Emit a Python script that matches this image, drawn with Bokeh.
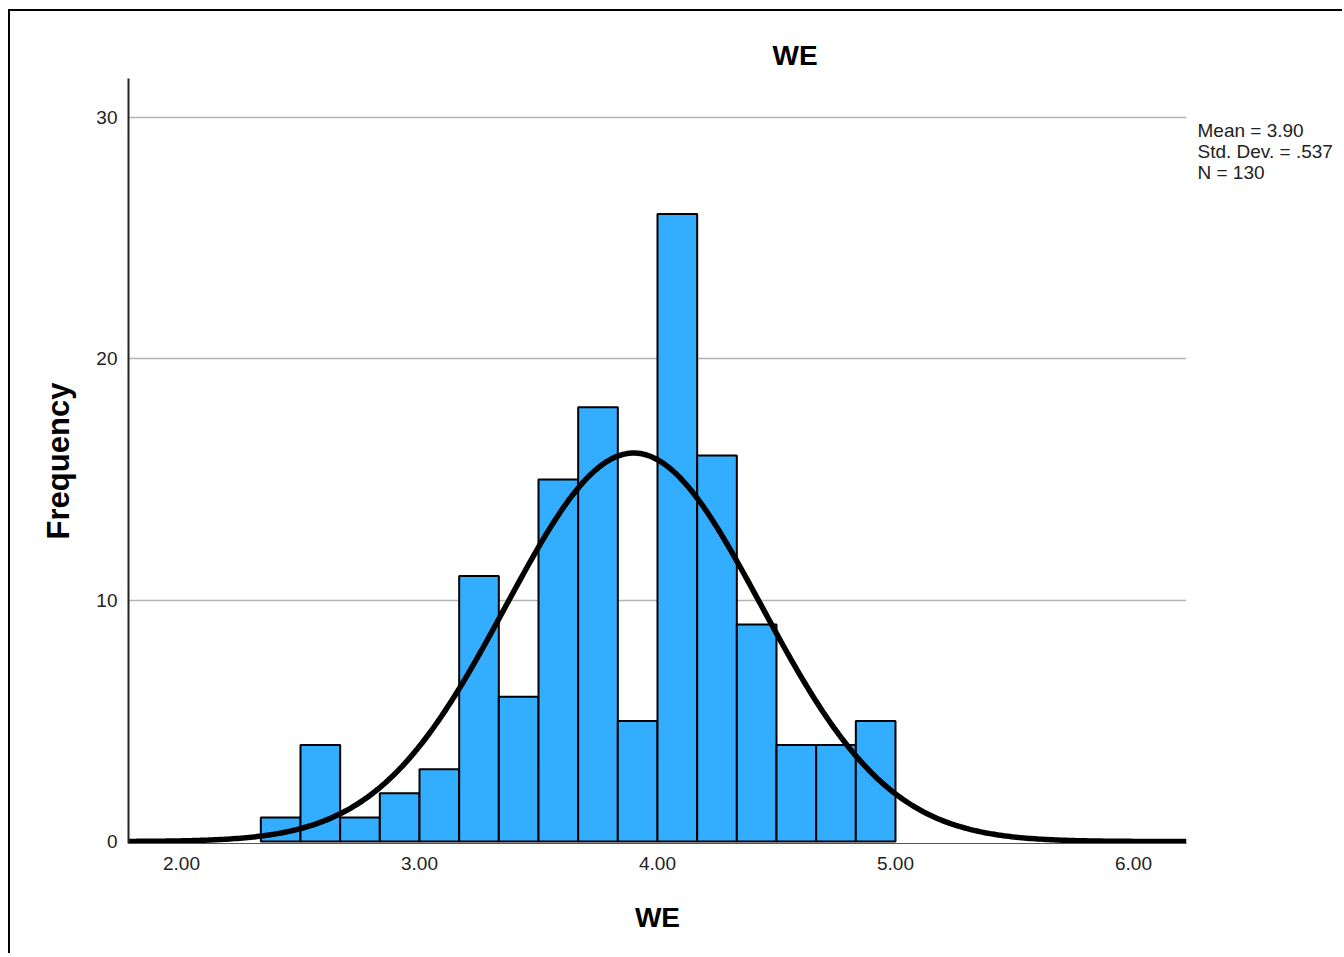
import numpy as np
from bokeh.plotting import figure
from bokeh.models import Range1d, FixedTicker, LinearAxis
from bokeh.embed import file_html
from bokeh.resources import INLINE

# ---- data ----
bin_edges = [2.3333, 2.5, 2.6667, 2.8333, 3.0, 3.1667, 3.3333, 3.5, 3.6667,
             3.8333, 4.0, 4.1667, 4.3333, 4.5, 4.6667, 4.8333, 5.0]
counts = [1, 4, 1, 2, 3, 11, 6, 15, 18, 5, 26, 16, 9, 4, 4, 5]
mean_val = 3.90
std_val = 0.537
n_val = 130
x_ticks = [2, 3, 4, 5, 6]
x_tick_labels = ["2.00", "3.00", "4.00", "5.00", "6.00"]
y_ticks = [0, 10, 20, 30]
title_text = "WE"
x_label = "WE"
y_label = "Frequency"
stats_lines = ["Mean = 3.90", "Std. Dev. = .537", "N = 130"]

FONT = "Liberation Sans"
x_lo, x_hi = 1.7773, 6.2227
y_lo, y_hi = -0.08, 31.62

W, H = 1334, 944
p = figure(width=W, height=H, x_range=Range1d(x_lo, x_hi),
           y_range=Range1d(y_lo, y_hi), output_backend="svg",
           toolbar_location=None,
           min_border_left=118, min_border_right=158,
           min_border_top=67, min_border_bottom=112,
           styles={"margin-left": "8px", "margin-top": "9px",
                   "border-top": "2px solid #000", "border-left": "2px solid #000"})
p.outline_line_color = None
p.background_fill_color = "white"
p.border_fill_color = "white"

# bars
p.quad(left=bin_edges[:-1], right=bin_edges[1:], bottom=0, top=counts,
       fill_color="#33adff", line_color="black", line_width=2)

# normal curve fit from the stated statistics
bw = bin_edges[1] - bin_edges[0]
xs = np.linspace(x_lo, x_hi, 400)
ys = n_val * bw / (std_val * np.sqrt(2 * np.pi)) * np.exp(-0.5 * ((xs - mean_val) / std_val) ** 2)
p.line(xs, ys, line_color="black", line_width=5.5)

# grid
p.xgrid.grid_line_color = None
p.ygrid.ticker = FixedTicker(ticks=[10, 20, 30])
p.ygrid.grid_line_color = "#b4b4b4"
p.ygrid.grid_line_width = 1.5

# axes
p.xaxis.ticker = FixedTicker(ticks=x_ticks)
p.xaxis.major_label_overrides = {t: l for t, l in zip(x_ticks, x_tick_labels)}
p.yaxis.ticker = FixedTicker(ticks=y_ticks)
for ax in (p.xaxis[0], p.yaxis[0]):
    ax.major_tick_line_color = None
    ax.minor_tick_line_color = None
    ax.major_label_text_font = FONT
    ax.major_label_text_font_size = "19px"
    ax.major_label_text_color = "#222222"
    ax.axis_label_text_font = FONT
    ax.axis_label_text_font_size = "28px"
    ax.axis_label_text_font_style = "bold"
    ax.axis_label_text_color = "black"
p.xaxis.major_label_standoff = 7
p.yaxis.major_label_standoff = 5
p.xaxis.axis_line_color = "#555555"
p.xaxis.axis_line_width = 1
p.yaxis.axis_line_color = "#222222"
p.yaxis.axis_line_width = 2
p.xaxis.axis_label = x_label
p.yaxis.axis_label = y_label
p.yaxis.axis_label_text_font_size = "31px"
p.xaxis.axis_label_standoff = 29
p.yaxis.axis_label_standoff = 17

# title
p.title.text = title_text
p.title.align = "left"
p.title.offset = 644
p.title.text_font = FONT
p.title.text_font_size = "28px"
p.title.text_font_style = "bold"
p.title.text_color = "black"
p.title.standoff = 15

# statistics block, drawn as a label-only axis at the right of the frame
px_per_unit = 24.133
line_step = 21 / px_per_unit
first_line = y_ticks[-1] - 13 / px_per_unit
stat_pos = [first_line - i * line_step for i in range(len(stats_lines))]
stats_axis = LinearAxis(ticker=FixedTicker(ticks=stat_pos),
                        major_label_overrides={v: t for v, t in zip(stat_pos, stats_lines)},
                        axis_line_color=None, major_tick_line_color=None,
                        minor_tick_line_color=None, major_label_standoff=5,
                        major_label_text_font=FONT, major_label_text_font_size="19px",
                        major_label_text_color="#222222")
p.add_layout(stats_axis, "right")

open("out.html", "w").write(file_html(p, INLINE))
